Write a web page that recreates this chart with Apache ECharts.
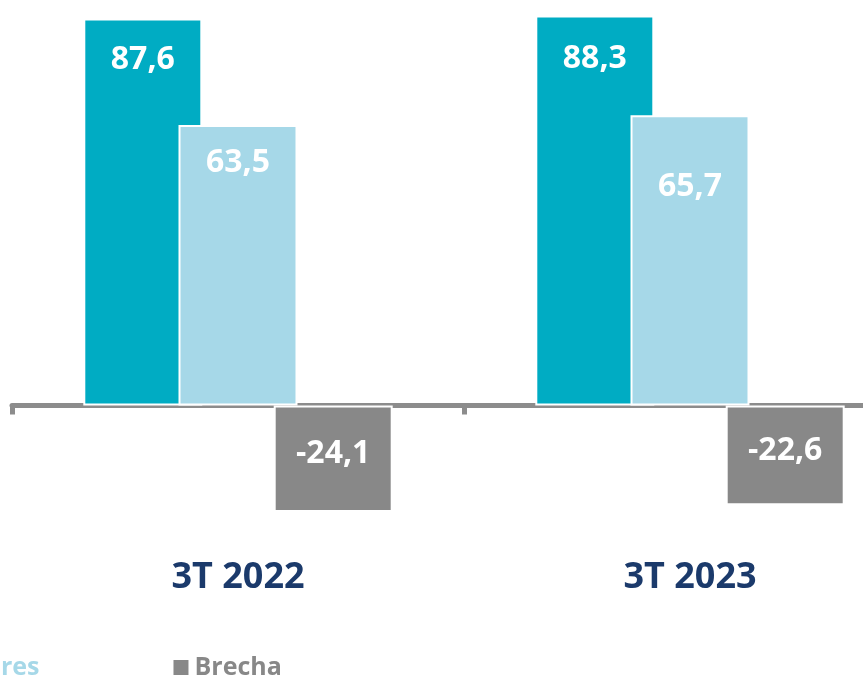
<!DOCTYPE html>
<html>
<head>
  <meta charset="utf-8">
  <title>Brecha 3T 2022 / 3T 2023</title>
  <script src="https://cdn.jsdelivr.net/npm/echarts@6/dist/echarts.min.js"></script>
  <style>
    html, body { margin: 0; padding: 0; background: #fff; }
    #chart { width: 863px; height: 682px; }
  </style>
</head>
<body>
  <div id="chart"></div>
  <script>
    // data
    const categories = ['3T 2022', '3T 2023'];
    const hombres = [87.6, 88.3];
    const mujeres = [63.5, 65.7];
    const brecha = [-24.1, -22.6];

    // label distance from the bar top, per bar (style only)
    const hombresLabelDist = [25, 27];
    const mujeresLabelDist = [22, 56];

    const chart = echarts.init(document.getElementById('chart'));

    const comma = p => String(p.value).replace('.', ',');
    const font = '"Open Sans", "Noto Sans", sans-serif';

    function barSeries(name, values, color, label, dists) {
      return {
        name: name,
        type: 'bar',
        data: values.map((v, i) => dists
          ? { value: v, label: { distance: dists[i] } }
          : v),
        barWidth: 119,
        barGap: '-20%',
        itemStyle: { color: color, borderColor: '#fff', borderWidth: 2 },
        label: Object.assign({
          show: true,
          formatter: comma,
          color: '#fff',
          fontFamily: font,
          fontWeight: 'bold',
          fontSize: 32
        }, label)
      };
    }

    chart.setOption({
      animation: false,
      legend: {
        bottom: -3,
        left: -358,
        icon: 'rect',
        itemWidth: 17,
        itemHeight: 17,
        itemGap: 132,
        data: [
          { name: 'Hombres', textStyle: { color: '#00acc3' } },
          { name: 'Mujeres', textStyle: { color: '#a6d8e8' } },
          { name: 'Brecha', textStyle: { color: '#888888' } }
        ],
        textStyle: { fontFamily: font, fontSize: 25, fontWeight: 'bold' }
      },
      grid: {
        left: 12, right: -53, top: 8, bottom: 144,
        containLabel: false,
        outerBoundsMode: 'none'
      },
      xAxis: {
        type: 'category',
        data: categories,
        axisLine: { onZero: true, lineStyle: { color: '#8c8c8c', width: 5 } },
        axisTick: {
          show: true,
          length: 9,
          lineStyle: { color: '#8c8c8c', width: 5 }
        },
        axisLabel: {
          show: true,
          margin: 22,
          color: '#1b3a6b',
          fontFamily: font,
          fontWeight: 'bold',
          fontSize: 36
        }
      },
      yAxis: {
        type: 'value',
        min: -30,
        max: 90,
        show: false,
        splitLine: { show: false }
      },
      series: [
        barSeries('Hombres', hombres, '#00acc3', { position: 'insideTop' }, hombresLabelDist),
        barSeries('Mujeres', mujeres, '#a6d8e8', { position: 'insideTop' }, mujeresLabelDist),
        barSeries('Brecha', brecha, '#888888', { position: 'inside', offset: [0, -5] })
      ]
    });
  </script>
</body>
</html>
